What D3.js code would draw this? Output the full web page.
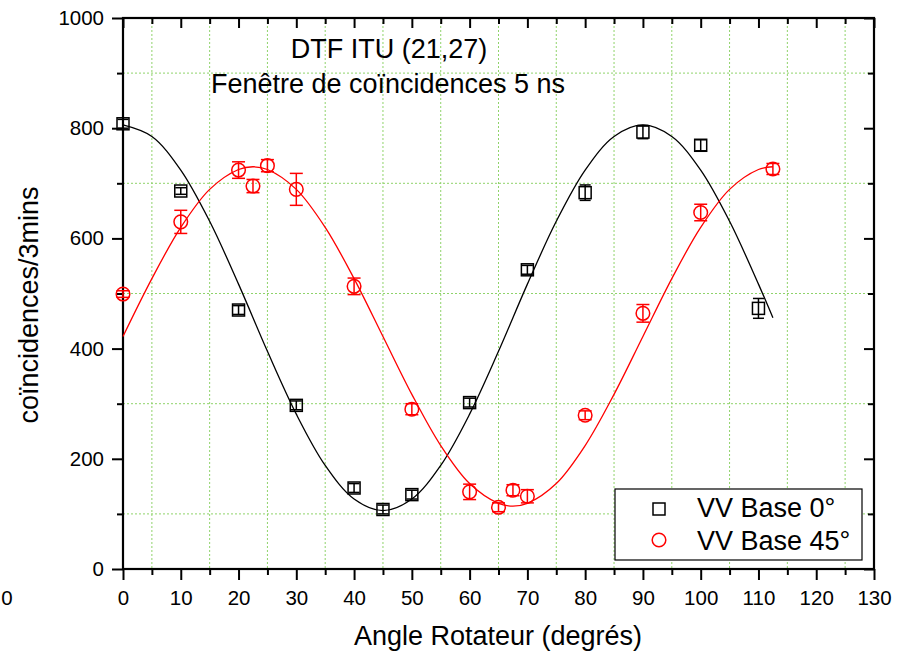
<!DOCTYPE html>
<html>
<head>
<meta charset="utf-8">
<script src="https://cdn.jsdelivr.net/npm/d3@7"></script>
<style>
  body { margin: 0; background: #fff; }
  svg text { font-family: "Liberation Sans", Arial, sans-serif; }
</style>
</head>
<body>
<div id="chart"></div>
<script>
// Data
const base0Angles = [0, 10, 20, 30, 40, 45, 50, 60, 70, 80, 90, 100, 110];
const base0Counts = [808, 686, 470, 297, 147, 108, 135, 302, 543, 683, 793, 769, 473];
const base0Errors = [8, 6, 8, 8, 8, 8, 8, 8, 8, 14, 12, 10, 18];

const base45Angles = [0, 10, 20, 22.5, 25, 30, 40, 50, 60, 65, 67.5, 70, 80, 90, 100, 112.5];
const base45Counts = [499, 630, 724, 695, 732, 689, 513, 290, 140, 112, 143, 132, 279, 464, 647, 726];
const base45Errors = [6, 21, 15, 12, 11, 29, 15, 10, 14, 8, 10, 12, 8, 16, 15, 10];

// fitted curves
const fit0Angles = [0, 5, 10, 15, 20, 25, 30, 35, 40, 45, 50, 55, 60, 65, 70, 75, 80, 85, 90, 95, 100, 105, 110, 112.5];
const fit0Counts = [806, 785, 724, 631, 517, 395, 281, 188, 127, 106, 127, 188, 281, 395, 517, 631, 724, 785, 806, 785, 724, 631, 517, 456];
const fit45Angles = [0, 5, 10, 15, 20, 22.5, 25, 30, 35, 40, 45, 50, 55, 60, 65, 67.5, 70, 75, 80, 85, 90, 95, 100, 105, 110, 112.5];
const fit45Counts = [422, 527, 620, 689, 725, 730, 725, 689, 620, 527, 422, 317, 224, 155, 119, 114, 119, 155, 224, 317, 422, 527, 620, 689, 725, 730];

const xTicks = [0, 10, 20, 30, 40, 50, 60, 70, 80, 90, 100, 110, 120, 130];
const yTicks = [0, 200, 400, 600, 800, 1000];
const xGrid = [5, 15, 25, 35, 45, 55, 65, 75, 85, 95, 105, 115, 125];
const yGrid = [100, 300, 500, 700, 900];

const width = 905, height = 656;
const plotLeft = 123, plotRight = 874, plotTop = 18, plotBottom = 569;
const tickFont = 20.5, bigFont = 27;

const svg = d3.select("#chart").append("svg")
  .attr("width", width)
  .attr("height", height);

const x = d3.scaleLinear().domain([0, 130]).range([plotLeft, plotRight]);
const y = d3.scaleLinear().domain([0, 1000]).range([plotBottom, plotTop]);

// grid (only at minor tick positions)
const grid = svg.append("g").attr("stroke", "#8fd36a").attr("stroke-width", 1).attr("stroke-dasharray", "2,2");
grid.selectAll(".gx").data(xGrid).enter().append("line")
  .attr("x1", d => x(d)).attr("x2", d => x(d))
  .attr("y1", plotTop).attr("y2", plotBottom);
grid.selectAll(".gy").data(yGrid).enter().append("line")
  .attr("y1", d => y(d)).attr("y2", d => y(d))
  .attr("x1", plotLeft).attr("x2", plotRight);

// axes
function styleAxis(g) {
  g.select(".domain").remove();
  g.selectAll("line").attr("stroke", "#000").attr("stroke-width", 2);
  g.selectAll("text").attr("fill", "#000").style("font-size", tickFont + "px");
}

const xMinor = d3.range(5, 130, 10);
const yMinor = d3.range(100, 1000, 200);

svg.append("g").attr("transform", `translate(0,${plotBottom})`)
  .call(d3.axisBottom(x).tickValues(xTicks).tickSize(11).tickPadding(10).tickFormat(d3.format("d")))
  .call(styleAxis);
svg.append("g").attr("transform", `translate(0,${plotBottom})`)
  .call(d3.axisBottom(x).tickValues(xMinor).tickSize(6).tickFormat(""))
  .call(styleAxis);

svg.append("g").attr("transform", `translate(${plotLeft},0)`)
  .call(d3.axisLeft(y).tickValues(yTicks).tickSize(11).tickPadding(8).tickFormat(d3.format("d")))
  .call(styleAxis);
svg.append("g").attr("transform", `translate(${plotLeft},0)`)
  .call(d3.axisLeft(y).tickValues(yMinor).tickSize(6).tickFormat(""))
  .call(styleAxis);

// mirrored top / right axes, ticks pointing inward
svg.append("g").attr("transform", `translate(0,${plotTop})`)
  .call(d3.axisBottom(x).tickValues(xTicks).tickSize(10).tickFormat(""))
  .call(styleAxis);
svg.append("g").attr("transform", `translate(0,${plotTop})`)
  .call(d3.axisBottom(x).tickValues(xMinor).tickSize(6).tickFormat(""))
  .call(styleAxis);
svg.append("g").attr("transform", `translate(${plotRight},0)`)
  .call(d3.axisLeft(y).tickValues(yTicks).tickSize(10).tickFormat(""))
  .call(styleAxis);
svg.append("g").attr("transform", `translate(${plotRight},0)`)
  .call(d3.axisLeft(y).tickValues(yMinor).tickSize(6).tickFormat(""))
  .call(styleAxis);

// frame
svg.append("rect")
  .attr("x", plotLeft).attr("y", plotTop)
  .attr("width", plotRight - plotLeft).attr("height", plotBottom - plotTop)
  .attr("fill", "none").attr("stroke", "#000").attr("stroke-width", 2.2);

// stray label at far left
svg.append("text").attr("x", 7).attr("y", 605).attr("text-anchor", "middle")
  .style("font-size", tickFont + "px").text("0");

// fit curves
const line = d3.line().x(d => x(d[0])).y(d => y(d[1])).curve(d3.curveCatmullRom);
svg.append("path")
  .attr("d", line(fit0Angles.map((a, i) => [a, fit0Counts[i]])))
  .attr("fill", "none").attr("stroke", "#000").attr("stroke-width", 1.3);
svg.append("path")
  .attr("d", line(fit45Angles.map((a, i) => [a, fit45Counts[i]])))
  .attr("fill", "none").attr("stroke", "#ff0000").attr("stroke-width", 1.3);

// error bars
function drawErrors(angles, counts, errors, color, capW) {
  const g = svg.append("g").attr("stroke", color).attr("stroke-width", 1.5);
  angles.forEach((a, i) => {
    const cx = x(a), y1 = y(counts[i] - errors[i]), y2 = y(counts[i] + errors[i]);
    g.append("line").attr("x1", cx).attr("x2", cx).attr("y1", y1).attr("y2", y2);
    g.append("line").attr("x1", cx - capW / 2).attr("x2", cx + capW / 2).attr("y1", y1).attr("y2", y1);
    g.append("line").attr("x1", cx - capW / 2).attr("x2", cx + capW / 2).attr("y1", y2).attr("y2", y2);
  });
}
drawErrors(base0Angles, base0Counts, base0Errors, "#000", 11);
drawErrors(base45Angles, base45Counts, base45Errors, "#ff0000", 13);

// markers
svg.selectAll(".sq").data(base0Angles).enter().append("rect")
  .attr("x", (d) => x(d) - 6)
  .attr("y", (d, i) => y(base0Counts[i]) - 6)
  .attr("width", 12).attr("height", 12)
  .attr("fill", "none").attr("stroke", "#000").attr("stroke-width", 1.5);

svg.selectAll(".ci").data(base45Angles).enter().append("circle")
  .attr("cx", d => x(d))
  .attr("cy", (d, i) => y(base45Counts[i]))
  .attr("r", 6.8)
  .attr("fill", "none").attr("stroke", "#ff0000").attr("stroke-width", 1.5);

// titles
svg.append("text").attr("x", 389).attr("y", 58).attr("text-anchor", "middle")
  .style("font-size", bigFont + "px").text("DTF ITU (21,27)");
svg.append("text").attr("x", 388).attr("y", 93).attr("text-anchor", "middle")
  .style("font-size", bigFont + "px").text("Fenêtre de coïncidences 5 ns");

// axis labels
svg.append("text").attr("x", 498).attr("y", 645).attr("text-anchor", "middle")
  .style("font-size", bigFont + "px").text("Angle Rotateur (degrés)");
svg.append("text")
  .attr("transform", "translate(38,305) rotate(-90)")
  .attr("text-anchor", "middle")
  .style("font-size", bigFont + "px").text("coïncidences/3mins");

// legend
const legend = svg.append("g");
legend.append("rect").attr("x", 615).attr("y", 489).attr("width", 247).attr("height", 71)
  .attr("fill", "#fff").attr("stroke", "#000").attr("stroke-width", 1.2);
legend.append("rect").attr("x", 653).attr("y", 503).attr("width", 12).attr("height", 12)
  .attr("fill", "none").attr("stroke", "#000").attr("stroke-width", 1.5);
legend.append("text").attr("x", 697).attr("y", 517).style("font-size", bigFont + "px").text("VV Base 0°");
legend.append("circle").attr("cx", 659).attr("cy", 540).attr("r", 6.8)
  .attr("fill", "none").attr("stroke", "#ff0000").attr("stroke-width", 1.5);
legend.append("text").attr("x", 697).attr("y", 550).style("font-size", bigFont + "px").text("VV Base 45°");
</script>
</body>
</html>
